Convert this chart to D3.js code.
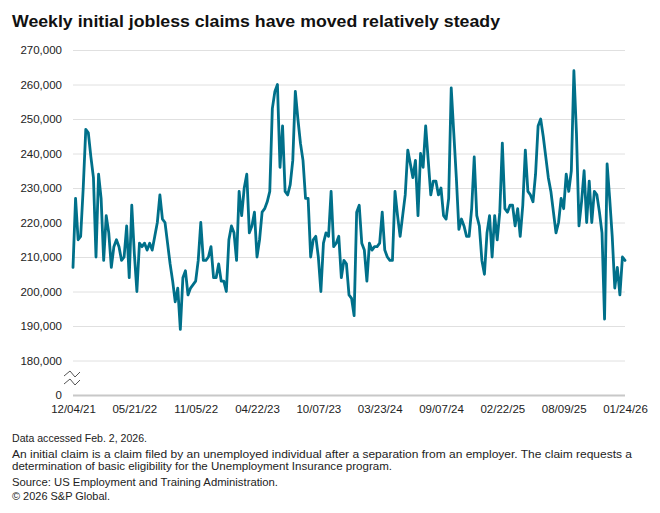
<!DOCTYPE html>
<html><head><meta charset="utf-8">
<script src="https://cdn.jsdelivr.net/npm/d3@7"></script>
<style>
body{margin:0;background:#fff}
svg{display:block}
text{font-family:"Liberation Sans",Arial,sans-serif}
</style>
</head><body>
<svg id="chart" width="660" height="513"></svg>
<script>
// ---- data ----
const startDate = "12/04/21";
const claimsK = [
207,227,215,216,230,247,246,239,233,210,234,227,209,222,217,207,213,215,213,209,
210,219,204,225,211,200,214,213,214,212,214,212,216,220,228,221,220,214,208,203,
197,201,189,204,206,199,201,202,203,209,220,209,209,210,213,204,204,208,203,203,
200,215,219,217,209,229,222,230,234,217,219,223,210,215,223,224,226,229,253,258,
260,236,248,229,228,231,238,258,250,243,238,227,227,210,215,216,210,200,214,217,
216,229,213,214,216,204,209,208,199,198,193,223,225,214,212,203,214,212,213,213,
214,223,212,210,209,209,229,222,216,222,228,241,237,233,238,222,240,236,248,238,
228,232,232,228,230,222,221,227,259,246,233,218,221,219,216,216,224,239,222,219,
209,205,217,222,210,222,215,223,243,224,223,225,225,219,224,216,225,241,229,228,
226,234,248,250,245,239,233,229,223,217,220,227,224,234,229,235,264,246,219,226,
235,220,232,220,229,228,223,217,192,237,227,216,201,207,199,210,209
];
const yTickValues = [0,180000,190000,200000,210000,220000,230000,240000,250000,260000,270000];
const xTickLabels = ["12/04/21","05/21/22","11/05/22","04/22/23","10/07/23","03/23/24","09/07/24","02/22/25","08/09/25","01/24/26"];
const titleText = "Weekly initial jobless claims have moved relatively steady";
const notes = [
  "Data accessed Feb. 2, 2026.",
  "An initial claim is a claim filed by an unemployed individual after a separation from an employer. The claim requests a",
  "determination of basic eligibility for the Unemployment Insurance program.",
  "Source: US Employment and Training Administration.",
  "\u00A9 2026 S&P Global."
];

// ---- build ----
const parse = d3.utcParse("%m/%d/%y");
const fmt = d3.utcFormat("%m/%d/%y");
const t0 = parse(startDate);
const data = claimsK.map((v,i)=>({date:d3.utcDay.offset(t0, 7*i), value:v*1000}));

const L=73, R=625, T=50, B=395;
const svg = d3.select("#chart");

const x = d3.scaleUtc().domain([t0, data[data.length-1].date]).range([L,R]);
// broken axis: 0 .. 180,000 compressed into one step
const y = d3.scaleLinear().domain([0,180000,270000]).range([B, B-34.5, T]);

// title
svg.append("text").attr("x",12).attr("y",27)
  .attr("font-size",17).attr("font-weight","bold").attr("fill","#111")
  .attr("textLength",488).attr("lengthAdjust","spacingAndGlyphs")
  .text(titleText);

// y axis + grid
const yAxis = d3.axisLeft(y).tickValues(yTickValues).tickSize(-(R-L)).tickPadding(11)
  .tickFormat(d3.format(","));
const gy = svg.append("g").attr("transform",`translate(${L},0)`).call(yAxis);
gy.select(".domain").remove();
gy.selectAll(".tick line").attr("stroke",d=>d===0?"#c8c8c8":"#e0e0e0").attr("stroke-width",d=>d===0?2:1);
gy.selectAll(".tick text").attr("font-size",11.5).attr("fill","#222").attr("font-family","'Liberation Sans',Arial,sans-serif");

// axis break symbol
const brk = svg.append("g").attr("fill","none").attr("stroke","#555").attr("stroke-width",1);
[374,382].forEach(cy=>{
  brk.append("path").attr("d",`M${L-9},${cy+2}L${L-3},${cy-3}L${L+2},${cy+3}L${L+7},${cy-2}`);
});

// x axis
const xAxis = d3.axisBottom(x).tickValues(xTickLabels.map(parse)).tickSize(0).tickPadding(10)
  .tickFormat(fmt);
const gx = svg.append("g").attr("transform",`translate(0,${B})`).call(xAxis);
gx.select(".domain").remove();
gx.selectAll(".tick text").attr("font-size",11.5).attr("fill","#222").attr("font-family","'Liberation Sans',Arial,sans-serif");

// line
const line = d3.line().x(d=>x(d.date)).y(d=>y(d.value));
svg.append("path").datum(data).attr("d",line)
  .attr("fill","none").attr("stroke","#00708a").attr("stroke-width",2.8)
  .attr("stroke-linejoin","round").attr("stroke-linecap","round");

// notes
const noteY = [442,458,470,486,500];
const noteW = [135,620,380,266,98];
notes.forEach((s,i)=>{
  svg.append("text").attr("x",12).attr("y",noteY[i]).attr("font-size",10.5).attr("fill","#222")
    .attr("textLength",noteW[i]).attr("lengthAdjust","spacingAndGlyphs").text(s);
});
</script>
</body></html>
